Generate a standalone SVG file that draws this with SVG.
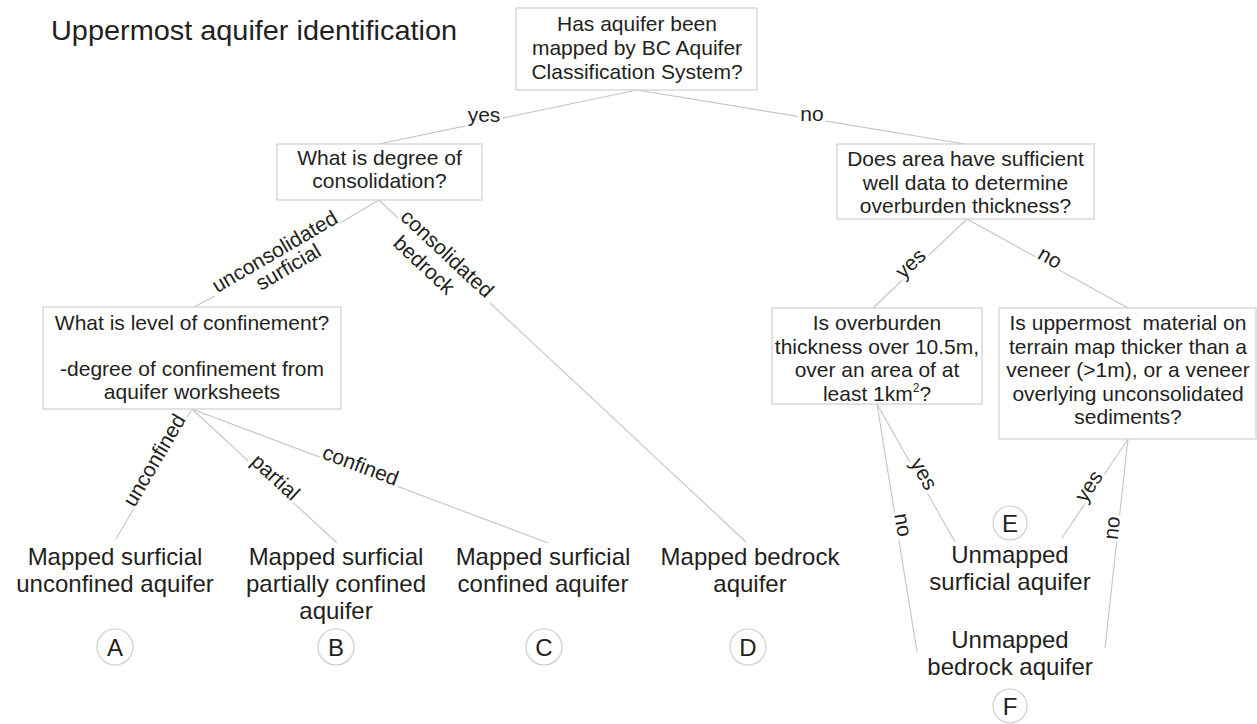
<svg xmlns="http://www.w3.org/2000/svg" width="1257" height="724" viewBox="0 0 1257 724">
<style>
text{font-family:"Liberation Sans",Arial,sans-serif;fill:#231f20}
.box{fill:#fff;stroke:#cfcfcf;stroke-width:1.2}
.q{font-size:21px;text-anchor:middle}
.leaf{font-size:24px;text-anchor:middle}
.lbl{font-size:21px;text-anchor:middle;stroke:#fff;stroke-width:7;stroke-linejoin:round;paint-order:stroke}
.lbl2{font-size:21px;text-anchor:middle}
.con line{stroke:#c4c4c4;stroke-width:1.1}
.circ{fill:#fff;stroke:#cfcfcf;stroke-width:1.2}
.let{font-size:24px;text-anchor:middle}
</style>
<rect width="1257" height="724" fill="#fff"/>
<text id="title" x="51" y="40" font-size="28" textLength="406" lengthAdjust="spacingAndGlyphs">Uppermost aquifer identification</text>

<g id="connectors" class="con">
<line x1="637" y1="90" x2="379" y2="144"/>
<line x1="637" y1="90" x2="965" y2="144"/>
<line x1="379" y1="200" x2="340" y2="223"/>
<line x1="215" y1="296" x2="194" y2="307"/>
<line x1="379" y1="200" x2="398" y2="218"/>
<line x1="490" y1="303" x2="746" y2="542"/>
<line x1="192" y1="409" x2="116" y2="539"/>
<line x1="192" y1="409" x2="337" y2="543"/>
<line x1="192" y1="409" x2="548" y2="543"/>
<line x1="967" y1="219" x2="873" y2="308"/>
<line x1="967" y1="219" x2="1128" y2="308"/>
<line x1="877" y1="404" x2="955" y2="542"/>
<line x1="877" y1="404" x2="917" y2="652"/>
<line x1="1128" y1="439" x2="1062" y2="538"/>
<line x1="1128" y1="439" x2="1105" y2="648"/>
</g>

<g id="edge-labels">
<text class="lbl" x="484" y="122">yes</text>
<text class="lbl" x="812" y="121">no</text>
<text class="lbl2" transform="translate(277,259.6) rotate(-30.3)"><tspan x="2" y="-1">unconsolidated</tspan><tspan x="6" y="19">surficial</tspan></text>
<text class="lbl2" transform="translate(435,252) rotate(43)"><tspan x="10" y="0">consolidated</tspan><tspan x="1" y="24">bedrock</tspan></text>
<text class="lbl" transform="translate(160,463.5) rotate(-59.7)" x="0" y="0.5">unconfined</text>
<text class="lbl" transform="translate(271,482) rotate(42.7)" x="0" y="0.5">partial</text>
<text class="lbl" transform="translate(358.3,471.6) rotate(20.6)" x="0" y="0.5">confined</text>
<text class="lbl" transform="translate(915,268.2) rotate(-43)" x="0" y="0.5">yes</text>
<text class="lbl" transform="translate(1047,263.3) rotate(29)" x="0" y="0.5">no</text>
<text class="lbl" transform="translate(918.2,477.1) rotate(60.5)" x="0" y="0.5">yes</text>
<text class="lbl" transform="translate(896.7,525.9) rotate(80.8)" x="0" y="0.5">no</text>
<text class="lbl" transform="translate(1094.1,489.8) rotate(-56)" x="0" y="0.5">yes</text>
<text class="lbl" transform="translate(1118.2,528.6) rotate(-83.7)" x="0" y="0.5">no</text>
</g>

<g id="q-mapped">
<rect class="box" x="516" y="8" width="241" height="82"/>
<text class="q" x="637" y="31">Has aquifer been</text>
<text class="q" x="637" y="55">mapped by BC Aquifer</text>
<text class="q" x="637" y="79">Classification System?</text>
</g>

<g id="q-consolidation">
<rect class="box" x="277" y="144" width="205" height="56"/>
<text class="q" x="379.5" y="165">What is degree of</text>
<text class="q" x="379.5" y="188">consolidation?</text>
</g>

<g id="q-welldata">
<rect class="box" x="837" y="144" width="257" height="75"/>
<text class="q" x="965.5" y="166">Does area have sufficient</text>
<text class="q" x="965.5" y="189.5">well data to determine</text>
<text class="q" x="965.5" y="213">overburden thickness?</text>
</g>

<g id="q-confinement">
<rect class="box" x="43" y="307" width="298" height="102"/>
<text class="q" x="192" y="330">What is level of confinement?</text>
<text class="q" x="192" y="376">-degree of confinement from</text>
<text class="q" x="192" y="399">aquifer worksheets</text>
</g>

<g id="q-overburden">
<rect class="box" x="772" y="308" width="210" height="96"/>
<text class="q" x="877" y="330">Is overburden</text>
<text class="q" x="877" y="353.5">thickness over 10.5m,</text>
<text class="q" x="877" y="377">over an area of at</text>
<text class="q" x="877" y="400.5">least 1km<tspan font-size="12" dy="-9">2</tspan><tspan dy="9">?</tspan></text>
</g>

<g id="q-terrain">
<rect class="box" x="999" y="308" width="257" height="131"/>
<text class="q" x="1128" y="330" xml:space="preserve">Is uppermost  material on</text>
<text class="q" x="1128" y="353.5">terrain map thicker than a</text>
<text class="q" x="1128" y="377">veneer (&gt;1m), or a veneer</text>
<text class="q" x="1128" y="400.5">overlying unconsolidated</text>
<text class="q" x="1128" y="424">sediments?</text>
</g>

<g id="leaf-A">
<text class="leaf" x="115" y="565">Mapped surficial</text>
<text class="leaf" x="115" y="592">unconfined aquifer</text>
<circle class="circ" cx="115" cy="647" r="18"/>
<text class="let" x="115" y="655.5">A</text>
</g>

<g id="leaf-B">
<text class="leaf" x="336" y="565">Mapped surficial</text>
<text class="leaf" x="336" y="592">partially confined</text>
<text class="leaf" x="336" y="619">aquifer</text>
<circle class="circ" cx="336" cy="647" r="18"/>
<text class="let" x="336" y="655.5">B</text>
</g>

<g id="leaf-C">
<text class="leaf" x="543" y="565">Mapped surficial</text>
<text class="leaf" x="543" y="592">confined aquifer</text>
<circle class="circ" cx="544" cy="647" r="18"/>
<text class="let" x="544" y="655.5">C</text>
</g>

<g id="leaf-D">
<text class="leaf" x="750" y="565">Mapped bedrock</text>
<text class="leaf" x="750" y="592">aquifer</text>
<circle class="circ" cx="748" cy="647" r="18"/>
<text class="let" x="748" y="655.5">D</text>
</g>

<g id="leaf-E">
<circle class="circ" cx="1010" cy="523" r="17"/>
<text class="let" x="1010" y="531.5">E</text>
<text class="leaf" x="1010" y="563">Unmapped</text>
<text class="leaf" x="1010" y="590">surficial aquifer</text>
</g>

<g id="leaf-F">
<text class="leaf" x="1010" y="648">Unmapped</text>
<text class="leaf" x="1010" y="675">bedrock aquifer</text>
<circle class="circ" cx="1010" cy="706" r="17"/>
<text class="let" x="1010" y="714.5">F</text>
</g>
</svg>
